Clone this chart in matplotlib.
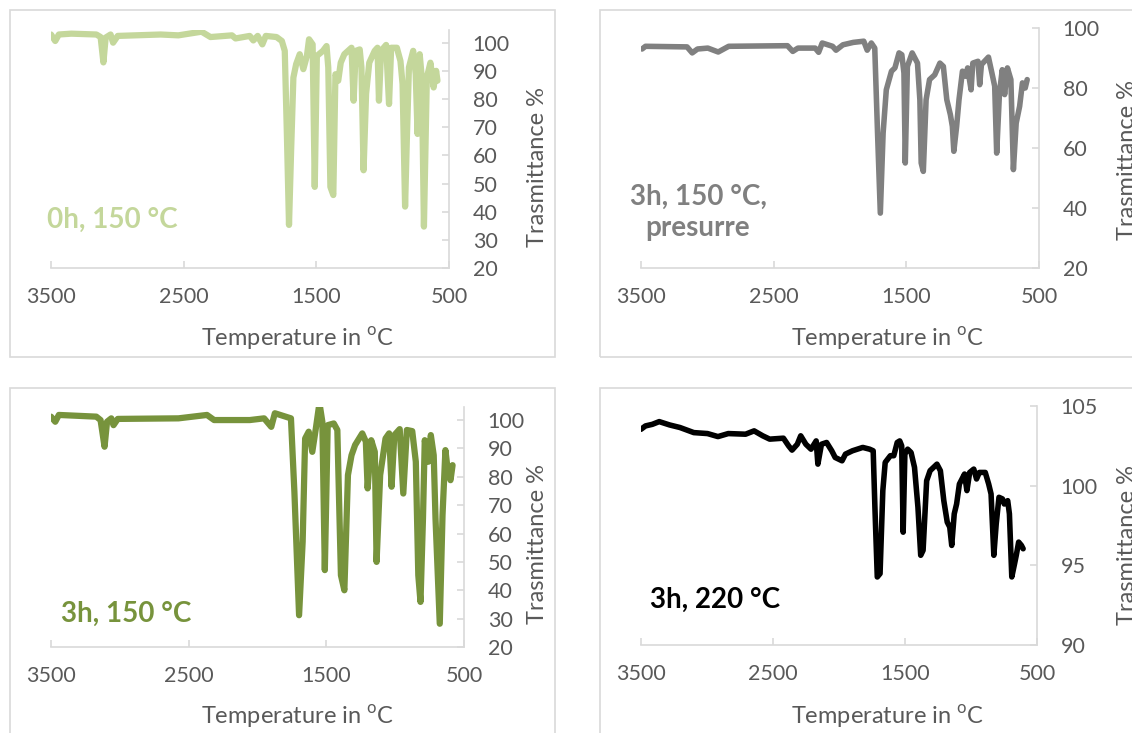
import matplotlib
matplotlib.use("Agg")
import matplotlib.pyplot as plt
from matplotlib.patches import Rectangle

plt.rcParams['font.family'] = ['Lato', 'DejaVu Sans']
plt.rcParams['mathtext.fontset'] = 'custom'
plt.rcParams['mathtext.rm'] = 'Lato'

# --- spectra (wavenumber, transmittance %) ---
wn_0h_150 = [3500, 3468, 3441, 3347, 3158, 3126, 3105, 3088, 3051, 3032, 2997, 2674, 2540, 2365,
             2298, 2136, 2109, 2002, 1975, 1942, 1907, 1881, 1800, 1760, 1738, 1722, 1706, 1690,
             1673, 1652, 1625, 1598, 1571, 1555, 1528, 1512, 1496, 1450, 1423, 1410, 1394, 1372,
             1356, 1335, 1316, 1289, 1235, 1219, 1203, 1173, 1160, 1144, 1125, 1101, 1060, 1039,
             1028, 1012, 974, 952, 936, 893, 866, 850, 831, 818, 802, 770, 751, 737, 721, 705,
             689, 667, 640, 616, 597, 587]
tr_0h_150 = [102.9, 100.6, 102.9, 103.2, 102.9, 102.0, 93.0, 101.8, 102.9, 100.0, 102.4, 102.9,
             102.6, 103.9, 102.0, 102.6, 101.5, 102.4, 100.8, 102.4, 99.4, 102.4, 102.0, 100.6,
             97.1, 67.6, 35.3, 61.8, 87.6, 92.4, 95.9, 90.6, 95.3, 101.2, 99.4, 48.8, 95.3, 97.1,
             98.8, 91.2, 48.8, 45.9, 88.8, 86.5, 92.9, 95.9, 98.2, 79.4, 97.1, 97.6, 91.2, 54.7,
             81.8, 92.9, 97.1, 98.2, 79.4, 97.1, 99.2, 78.2, 98.2, 98.2, 93.5, 85.3, 41.8, 65.3,
             91.2, 97.1, 88.8, 67.6, 95.9, 87.6, 34.7, 87.6, 92.9, 84.1, 90.0, 86.5]

wn_3h_150_p = [3492, 3466, 3153, 3114, 3074, 2996, 2918, 2839, 2396, 2356, 2317, 2187, 2161, 2134,
               2056, 2030, 1978, 1900, 1821, 1795, 1764, 1738, 1717, 1696, 1675, 1651, 1612, 1586,
               1555, 1534, 1518, 1508, 1492, 1456, 1416, 1398, 1388, 1372, 1351, 1325, 1286, 1247,
               1221, 1195, 1168, 1153, 1142, 1121, 1103, 1077, 1051, 1038, 1012, 999, 960, 947, 934,
               881, 855, 834, 819, 798, 777, 759, 738, 712, 693, 672, 646, 625, 604, 589]
tr_3h_150_p = [93.0, 93.9, 93.7, 91.7, 93.0, 93.3, 92.0, 93.9, 94.1, 92.2, 93.3, 93.3, 91.9, 95.0,
               93.9, 92.6, 94.4, 95.2, 95.6, 92.6, 95.0, 93.3, 65.0, 38.3, 65.0, 79.4, 85.6, 86.7,
               91.7, 91.1, 85.0, 55.0, 87.2, 91.7, 88.3, 76.1, 55.0, 52.2, 76.1, 82.8, 84.4, 88.3,
               87.2, 76.1, 71.1, 67.2, 58.9, 67.2, 76.1, 85.6, 83.9, 86.7, 79.4, 88.3, 88.9, 81.1,
               87.8, 90.3, 85.0, 80.6, 58.3, 78.3, 86.1, 77.8, 86.7, 82.8, 52.8, 68.3, 73.9, 81.7,
               80.0, 82.8]

wn_3h_150 = [3500, 3469, 3443, 3171, 3140, 3111, 3093, 3062, 3046, 3015, 2574, 2367, 2315, 2056,
             1952, 1900, 1874, 1796, 1757, 1732, 1698, 1672, 1654, 1628, 1602, 1576, 1550, 1529,
             1511, 1490, 1446, 1420, 1394, 1369, 1343, 1317, 1291, 1239, 1213, 1200, 1174, 1148,
             1135, 1109, 1070, 1044, 1026, 1006, 967, 941, 915, 876, 850, 832, 816, 798, 785, 759,
             741, 720, 707, 676, 656, 635, 617, 598, 583]
tr_3h_150 = [101.2, 99.4, 101.8, 101.2, 100.0, 90.6, 99.4, 100.6, 98.2, 100.4, 100.6, 101.8, 100.0,
             100.0, 100.6, 97.6, 102.4, 101.2, 100.6, 74.7, 31.2, 57.1, 93.5, 95.9, 88.8, 97.1,
             106.0, 99.4, 47.1, 98.2, 98.8, 96.5, 45.3, 40.0, 80.6, 87.6, 91.2, 95.3, 92.4, 75.9,
             92.9, 88.8, 50.0, 80.6, 93.5, 95.3, 76.5, 94.7, 96.8, 74.1, 96.5, 96.1, 85.3, 45.3,
             35.9, 65.3, 92.9, 85.3, 94.7, 87.6, 65.3, 28.2, 66.5, 89.4, 81.8, 78.8, 84.1]

wn_3h_220 = [3500, 3466, 3414, 3362, 3283, 3205, 3100, 2996, 2917, 2839, 2708, 2643, 2578, 2525,
             2421, 2382, 2356, 2316, 2290, 2251, 2212, 2173, 2160, 2133, 2094, 2055, 2029, 1977,
             1951, 1898, 1820, 1768, 1741, 1728, 1710, 1689, 1668, 1650, 1611, 1585, 1559, 1540,
             1525, 1514, 1501, 1480, 1454, 1428, 1402, 1381, 1363, 1336, 1310, 1258, 1232, 1206,
             1180, 1161, 1146, 1127, 1109, 1088, 1062, 1049, 1031, 1010, 979, 958, 937, 892, 866,
             848, 827, 809, 788, 762, 748, 722, 709, 691, 670, 657, 639, 618, 605]
tr_3h_220 = [103.54, 103.75, 103.85, 104.02, 103.81, 103.65, 103.33, 103.27, 103.08, 103.27,
             103.23, 103.44, 103.13, 102.92, 102.98, 102.5, 102.23, 102.6, 103.13, 102.6, 102.29,
             102.81, 101.35, 102.6, 102.71, 102.19, 101.77, 101.56, 101.98, 102.19, 102.4, 102.29,
             102.19, 98.65, 94.27, 94.48, 99.69, 101.46, 101.88, 101.88, 102.71, 102.81, 102.5,
             97.08, 101.98, 102.29, 102.08, 101.15, 98.65, 95.63, 95.94, 100.31, 100.94, 101.35,
             100.94, 99.06, 97.71, 97.4, 96.25, 98.23, 98.85, 100.1, 100.52, 100.73, 99.69,
             100.83, 101.04, 100.42, 100.83, 100.83, 100.1, 99.48, 95.63, 97.6, 99.27, 99.17,
             98.85, 99.06, 98.23, 94.27, 95.1, 95.63, 96.46, 96.25, 96.04]

x_ticks = [3500, 2500, 1500, 500]

W, H = 1132, 733
AXIS_GREY = '#d9d9d9'
TEXT_GREY = '#595959'


def fx(x):
    return x / W


def fy(y):
    return 1 - y / H


def draw_panel(fig, box, frame, wn, tr, color, lw, ylim, yticks, tag, tag_xy, tag_ha,
               xlabel_xy, ylabel_xy):
    left, top, right, bottom = box
    ax = fig.add_axes([fx(left), fy(bottom), (right - left) / W, (bottom - top) / H])
    ax.plot(wn, tr, color=color, lw=lw, solid_joinstyle='round', solid_capstyle='round')
    ax.set_xlim(3500, 500)
    ax.set_ylim(*ylim)
    ax.set_xticks(x_ticks)
    ax.set_yticks(yticks)
    ax.yaxis.tick_right()
    for s in ['top', 'left']:
        ax.spines[s].set_visible(False)
    for s in ['bottom', 'right']:
        ax.spines[s].set_color(AXIS_GREY)
        ax.spines[s].set_linewidth(1.2)
    ax.tick_params(axis='both', direction='in', length=5, width=1.2, color=AXIS_GREY,
                   labelcolor=TEXT_GREY, labelsize=15.5)
    ax.tick_params(axis='x', pad=14)
    ax.tick_params(axis='y', pad=17)
    ax.patch.set_alpha(0)

    fl, ft, fr, fb = frame
    fig.add_artist(Rectangle((fx(fl), fy(fb)), (fr - fl) / W, (fb - ft) / H,
                             transform=fig.transFigure, fill=False, ec=AXIS_GREY, lw=1.2))

    fig.text(fx(xlabel_xy[0]), fy(xlabel_xy[1]), 'Temperature in $^{\\mathrm{o}}$C',
             ha='center', va='center', fontsize=17, color=TEXT_GREY)
    fig.text(fx(ylabel_xy[0]), fy(ylabel_xy[1]), 'Trasmittance %', rotation=90,
             ha='center', va='center', fontsize=17, color=TEXT_GREY)
    fig.text(fx(tag_xy[0]), fy(tag_xy[1]), tag, ha=tag_ha, va='center', multialignment='center',
             fontsize=20, fontweight='bold', color=color, linespacing=1.25)
    return ax


fig = plt.figure(figsize=(W / 100, H / 100), dpi=100)

draw_panel(fig, (51, 30, 449, 268), (10, 10, 555, 357), wn_0h_150, tr_0h_150, '#c4d79b', 4.5,
           (20, 104.5), list(range(20, 101, 10)), '0h, 150 °C', (47, 220), 'left',
           (298, 339), (538, 167))
draw_panel(fig, (641, 28, 1039, 268), (600, 10, 1145, 357), wn_3h_150_p, tr_3h_150_p, '#808080',
           4.0, (20, 100), [20, 40, 60, 80, 100], '3h, 150 °C,\npresurre', (698, 212), 'center',
           (888, 339), (1127, 160))
draw_panel(fig, (51, 407, 464, 647), (10, 388, 555, 745), wn_3h_150, tr_3h_150, '#77933c', 4.5,
           (20, 104.6), list(range(20, 101, 10)), '3h, 150 °C', (61, 614), 'left',
           (298, 717), (537, 544))
draw_panel(fig, (641, 406, 1037, 645), (600, 388, 1145, 745), wn_3h_220, tr_3h_220, '#000000',
           4.0, (90, 105), [90, 95, 100, 105], '3h, 220 °C', (650, 600), 'left',
           (888, 717), (1127, 545))

fig.savefig('out.png', dpi=100)
